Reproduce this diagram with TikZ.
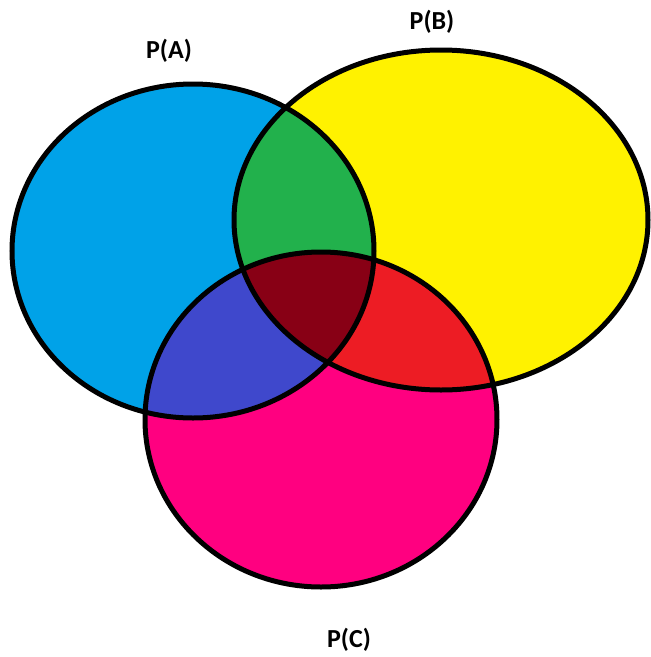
\documentclass[tikz,border=0pt]{standalone}
\usepackage{fontspec}
\setmainfont{Carlito}
\definecolor{cA}{HTML}{00A2E8}
\definecolor{cB}{HTML}{FFF200}
\definecolor{cC}{HTML}{FF0080}
\definecolor{cAB}{HTML}{22B14C}
\definecolor{cAC}{HTML}{3F48CC}
\definecolor{cBC}{HTML}{ED1C24}
\definecolor{cABC}{HTML}{880015}
\begin{document}
\begin{tikzpicture}[x=1pt,y=-1pt,
  outline/.style={draw=black,line width=5pt},
  lbl/.style={font=\bfseries\fontsize{26}{30}\selectfont,inner sep=0pt}]
\useasboundingbox (0,0) rectangle (651,657);
\def\pA{(193,251) ellipse [x radius=181,y radius=167]}
\def\pB{(441,220) ellipse [x radius=207,y radius=170]}
\def\pC{(321,419.5) ellipse [x radius=176,y radius=167.5]}
\fill[cA] \pA;
\fill[cB] \pB;
\fill[cC] \pC;
\begin{scope}\clip \pA; \fill[cAB] \pB; \fill[cAC] \pC; \end{scope}
\begin{scope}\clip \pB; \fill[cBC] \pC; \end{scope}
\begin{scope}\clip \pA; \clip \pB; \fill[cABC] \pC; \end{scope}
\draw[outline] \pA;
\draw[outline] \pB;
\draw[outline] \pC;
\node[lbl] (la) at (169,51) {P(A)};
\node[lbl] (lb) at (432,22) {P(B)};
\node[lbl] (lc) at (349,640) {P(C)};
\end{tikzpicture}
\end{document}
